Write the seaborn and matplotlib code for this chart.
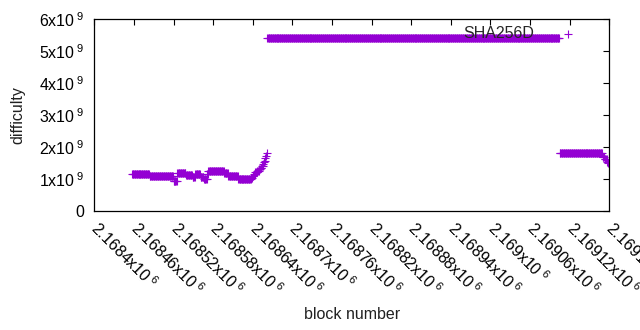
import matplotlib
matplotlib.use('Agg')
import matplotlib.pyplot as plt
import matplotlib.ticker as mticker
import numpy as np
import pandas as pd
import seaborn as sns

# difficulty runs: each run starts at run_start and lasts until the next one
run_start = [2168457, 2168484, 2168520, 2168526, 2168539, 2168549, 2168553,
             2168561, 2168566, 2168571, 2168573, 2168597, 2168603, 2168618,
             2168638, 2168640, 2168642, 2168644, 2168647, 2168650, 2168652,
             2168654, 2168656, 2168657, 2168658, 2168659, 2168660, 2168661,
             2168662, 2169105, 2169170, 2169173, 2169177, 2169178]
run_value = [1.15, 1.08, 0.95, 1.18, 1.12, 1.05, 1.16,
             1.07, 1.00, 1.15, 1.26, 1.18, 1.09, 1.00,
             1.04, 1.10, 1.16, 1.21, 1.25, 1.30, 1.35,
             1.41, 1.47, 1.52, 1.57, 1.65, 1.73, 1.80,
             5.40, 1.80, 1.70, 1.62, 1.53, 1.49]
last_block = 2169178
series_name = 'SHA256D'

x_ticks = list(range(2168400, 2169181, 60))
y_ticks = [0, 1e9, 2e9, 3e9, 4e9, 5e9, 6e9]

lengths = np.diff(run_start + [last_block + 1])
df = pd.DataFrame({
    'block': np.arange(run_start[0], last_block + 1),
    'difficulty': np.repeat(np.array(run_value) * 1e9, lengths),
})

sns.set_theme(style='white')
plt.rcParams['font.family'] = ['Liberation Sans', 'DejaVu Sans']
plt.rcParams['mathtext.fontset'] = 'custom'
plt.rcParams['mathtext.rm'] = 'Liberation Sans'
fs = 11.5

fig = plt.figure(figsize=(6.4, 3.3), dpi=100)
ax = fig.add_axes([0.1473, 0.3606, 0.8047, 0.5818])

sns.scatterplot(data=df, x='block', y='difficulty', marker='+', s=26,
                color='#9400D3', linewidth=0.8, ax=ax, label=series_name)

ax.set_xlim(x_ticks[0], x_ticks[-1])
ax.set_ylim(0, 6e9)
ax.set_xticks(x_ticks)
ax.set_yticks(y_ticks)
ax.xaxis.set_major_formatter(mticker.FuncFormatter(
    lambda v, p: r'$\mathregular{%gx10^{\;6}}$' % (v / 1e6)))
ax.yaxis.set_major_formatter(mticker.FuncFormatter(
    lambda v, p: '0' if v == 0 else r'$\mathregular{%dx10^{\;9}}$' % round(v / 1e9)))

ax.tick_params(direction='in', length=4, width=0.8, top=True, right=True,
               labelsize=fs, colors='black')
ax.tick_params(axis='y', pad=7)
ax.tick_params(axis='x', pad=10)
for lbl in ax.get_xticklabels():
    lbl.set_rotation(-45)
    lbl.set_ha('left')
    lbl.set_va('center')
    lbl.set_rotation_mode('anchor')
for sp in ax.spines.values():
    sp.set_color('black')
    sp.set_linewidth(0.9)

ax.set_xlabel('block number', fontsize=fs, color='#202020', labelpad=6)
ax.set_ylabel('difficulty', fontsize=fs, color='#202020', labelpad=9.5)

leg = ax.legend(loc='upper right', bbox_to_anchor=(0.9665, 1.006), frameon=False,
                markerfirst=False, borderpad=0, handletextpad=1.1,
                fontsize=fs, markerscale=1.0)
leg.set_zorder(1)

fig.savefig('out.png', dpi=100)
